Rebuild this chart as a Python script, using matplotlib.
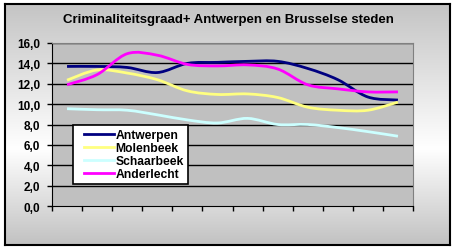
import numpy as np
import matplotlib
matplotlib.use("Agg")
import matplotlib.pyplot as plt
from matplotlib.path import Path
from matplotlib.patches import PathPatch
from matplotlib.lines import Line2D
from matplotlib.legend_handler import HandlerBase

plt.rcParams['font.family'] = ['Liberation Sans', 'DejaVu Sans']

# gegevens
titel = "Criminaliteitsgraad+ Antwerpen en Brusselse steden"
reeksen = ["Antwerpen", "Molenbeek", "Schaarbeek", "Anderlecht"]
kleuren = ["#000080", "#FFFF80", "#CCFFFF", "#FF00FF"]
antwerpen = [13.7, 13.7, 13.6, 13.1, 14.0, 14.1, 14.2, 14.2, 13.5, 12.4, 10.7, 10.4]
molenbeek = [12.35, 13.35, 13.05, 12.4, 11.3, 10.95, 11.0, 10.65, 9.7, 9.4, 9.4, 10.2]
schaarbeek = [9.55, 9.45, 9.4, 8.95, 8.45, 8.15, 8.6, 8.0, 8.0, 7.7, 7.3, 6.85]
anderlecht = [11.9, 12.9, 14.95, 14.8, 13.9, 13.75, 13.85, 13.45, 11.9, 11.5, 11.2, 11.2]
waarden = [antwerpen, molenbeek, schaarbeek, anderlecht]
yticks = [0, 2, 4, 6, 8, 10, 12, 14, 16]

W, H = 455, 251
fig = plt.figure(figsize=(W / 100, H / 100), dpi=100)
fig.patch.set_facecolor("white")

# achtergrond met verloop
bg = fig.add_axes([5 / W, 1 - 246 / H, 445 / W, 241 / H])
t = np.linspace(0, 1, 200)
grijs = np.where(t < 0.6, 0.77 + (1.0 - 0.77) * (t / 0.6),
                 1.0 - (1.0 - 0.76) * ((t - 0.6) / 0.4))
bg.imshow(np.tile(grijs[:, None, None], (1, 2, 3)), aspect="auto",
          extent=[0, 1, 0, 1])
bg.set_xticks([])
bg.set_yticks([])
for s in bg.spines.values():
    s.set_linewidth(1.5)
    s.set_color("black")

# grafiekgebied
ax = fig.add_axes([52 / W, 1 - 207 / H, 361 / W, 163 / H])
ax.set_facecolor("#C0C0C0")
ax.set_xlim(0, 12)
ax.set_ylim(0, 16)
ax.set_yticks(yticks)
ax.set_yticklabels([f"{v:.1f}".replace(".", ",") for v in yticks],
                   fontsize=8.5, fontweight="bold")
ax.set_xticks(range(13))
ax.set_xticklabels([])
ax.tick_params(axis="both", length=3.6, width=1, color="black", pad=5)
for v in yticks[1:]:
    ax.axhline(v, color="black", lw=1, zorder=1)
ax.spines["top"].set_color("#808080")
ax.spines["right"].set_color("#808080")
ax.spines["left"].set_color("black")
ax.spines["bottom"].set_color("black")


def glad(xs, ys):
    # Excel-achtige vloeiende lijn met Bezier-segmenten
    p = np.column_stack([xs, ys])
    n = len(p)
    verts = [p[0]]
    codes = [Path.MOVETO]
    for i in range(n - 1):
        p0 = p[i - 1] if i > 0 else p[i]
        p3 = p[i + 2] if i + 2 < n else p[i + 1]
        c1 = p[i] + (p[i + 1] - p0) / 6
        c2 = p[i + 1] - (p3 - p[i]) / 6
        verts += [c1, c2, p[i + 1]]
        codes += [Path.CURVE4] * 3
    return Path(verts, codes)


x = np.arange(12) + 0.5
for naam, ys, kl in zip(reeksen, waarden, kleuren):
    ax.add_patch(PathPatch(glad(x, ys), fill=False, edgecolor=kl, lw=2,
                           zorder=3, capstyle="butt"))


class RechtsLijn(HandlerBase):
    # legendalijn alleen in het rechterdeel van het vak
    def create_artists(self, legend, orig, xdescent, ydescent, width, height,
                       fontsize, trans):
        y = height / 2 - ydescent
        lijn = Line2D([0.2 * width - xdescent, width - xdescent], [y, y],
                      color=orig.get_color(), lw=orig.get_linewidth(),
                      transform=trans)
        return [lijn]


handles = [Line2D([], [], color=kl, lw=2) for kl in kleuren]
leg = ax.legend(handles, reeksen, loc="upper left",
                bbox_to_anchor=(0.058, 0.497),
                prop={"weight": "bold", "size": 8.7},
                handler_map={Line2D: RechtsLijn()},
                frameon=True, fancybox=False, handlelength=3.1,
                handletextpad=0.1, borderpad=0.32, labelspacing=0.1,
                borderaxespad=0)
leg.get_frame().set_edgecolor("black")
leg.get_frame().set_linewidth(1.2)
leg.get_frame().set_facecolor("white")
leg.get_frame().set_alpha(1)

fig.text(228 / W, 1 - 20 / H, titel, ha="center", va="center",
         fontsize=9.5, fontweight="bold")

fig.savefig("out.png", dpi=100)
